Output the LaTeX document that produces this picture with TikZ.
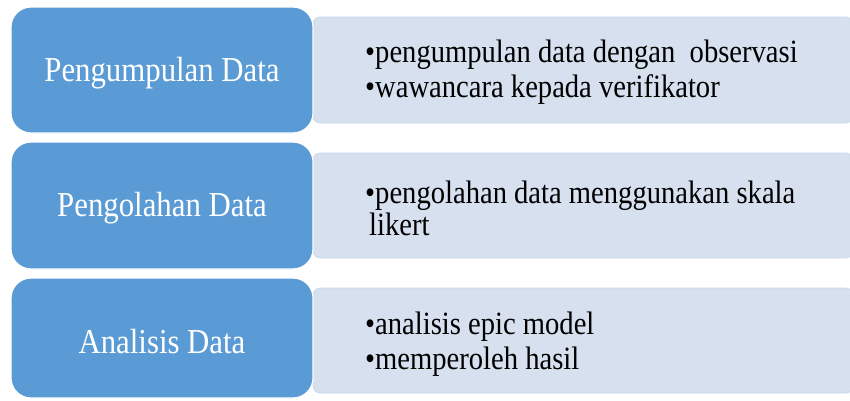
\documentclass[tikz,border=0pt]{standalone}
\usepackage{fontspec}
\setmainfont{Liberation Serif}[FakeStretch=0.88]
\definecolor{stepblue}{HTML}{5B9BD5}
\definecolor{detailbg}{HTML}{D6E0EE}
\definecolor{detailedge}{HTML}{C9D6EB}
\tikzset{
  stagebox/.style={fill=stepblue, draw=white, line width=1.2pt, rounded corners=20pt,
    minimum width=302pt, text=white, font=\fontsize{35}{40}\selectfont, inner sep=0pt},
  stagelabel/.style={text=white, font=\fontsize{35}{40}\selectfont, inner sep=0pt},
  detailbox/.style={fill=detailbg, draw=detailedge, line width=0.6pt, rounded corners=7pt,
    minimum width=540pt, minimum height=106pt, inner sep=0pt},
  detailtext/.style={anchor=west, align=left, font=\fontsize{32.5}{35}\selectfont, inner sep=0pt},
}
\begin{document}
\begin{tikzpicture}[x=1pt, y=-1pt]
  \useasboundingbox (0,0) rectangle (850,400);
  % light detail panels behind the stage boxes
  \node[detailbox] (d1) at (583,70) {};
  \node[detailbox, minimum height=105pt] (d2) at (583,205.5) {};
  \node[detailbox, minimum height=105pt] (d3) at (583,340.5) {};
  % stage boxes
  \node[stagebox, minimum height=126pt] (s1) at (162,70) {};
  \node[stagebox, minimum height=127pt] (s2) at (162,205.5) {};
  \node[stagebox, minimum height=120pt] (s3) at (162,338) {};
  \node[stagelabel] (l1) at (162,73) {Pengumpulan Data};
  \node[stagelabel] (l2) at (162,208) {Pengolahan Data};
  \node[stagelabel] (l3) at (162,342) {Analisis Data};
  % bullet lists
  \node[detailtext] (t1) at (365,72) {•pengumpulan data dengan\ \ observasi\\•wawancara kepada verifikator};
  \node[detailtext] (t2) at (365,208) {•pengolahan data menggunakan skala\\[-3pt]\hspace*{4pt}likert};
  \node[detailtext] (t3) at (365,344) {•analisis epic model\\•memperoleh hasil};
\end{tikzpicture}
\end{document}
